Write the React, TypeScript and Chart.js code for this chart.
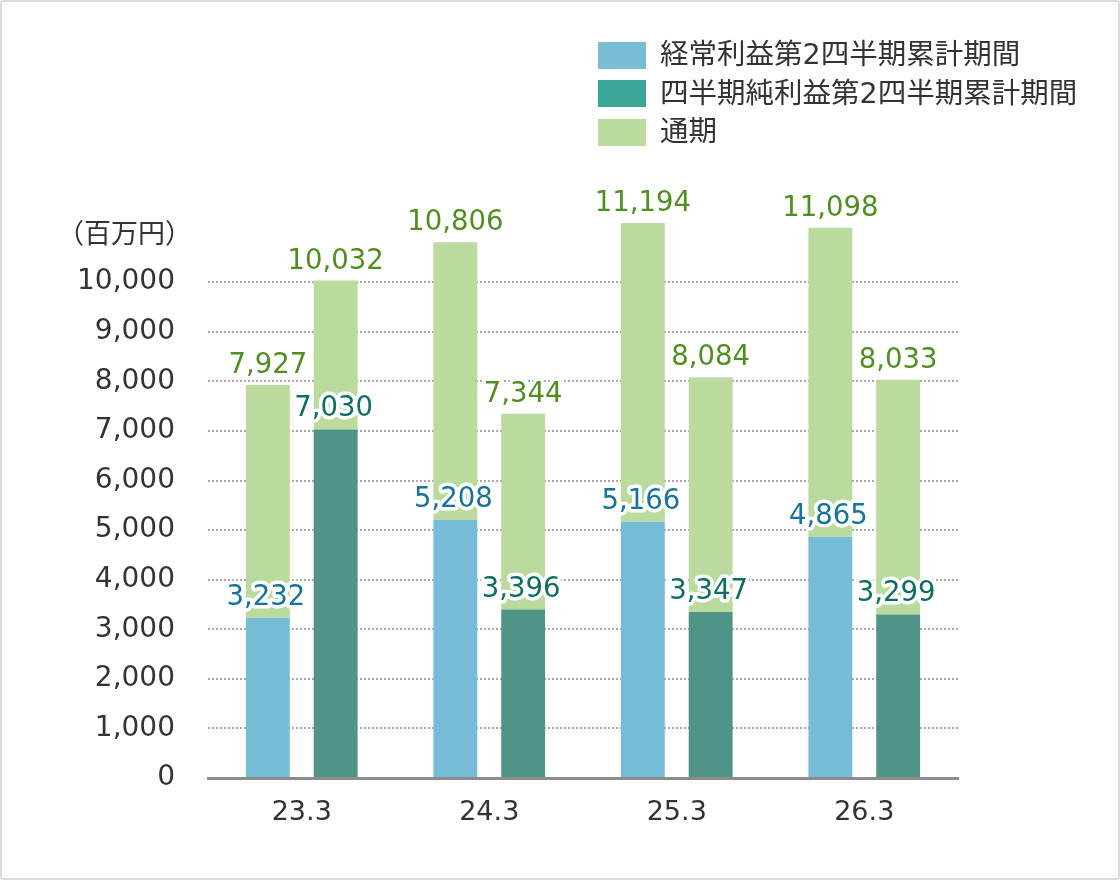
import { useEffect, useRef } from 'react';
import { Chart, registerables } from 'chart.js';

Chart.register(...registerables);

const categories = ['23.3', '24.3', '25.3', '26.3'];
const ordinaryHalf = [3232, 5208, 5166, 4865];
const ordinaryFull = [7927, 10806, 11194, 11098];
const netHalf = [7030, 3396, 3347, 3299];
const netFull = [10032, 7344, 8084, 8033];

const FONT = '"DejaVu Sans", "Noto Sans CJK JP", sans-serif';
const fmt = (v: number) => v.toLocaleString('en-US');

const legendItems = [
  { label: '経常利益第2四半期累計期間', color: '#78bcd6' },
  { label: '四半期純利益第2四半期累計期間', color: '#3ba597' },
  { label: '通期', color: '#bbda9e' },
];

const valueLabels = {
  id: 'valueLabels',
  afterDatasetsDraw(chart: Chart) {
    const { ctx } = chart;
    ctx.save();
    ctx.font = `27.5px ${FONT}`;
    ctx.textAlign = 'center';
    ctx.textBaseline = 'alphabetic';
    ctx.lineJoin = 'round';
    ctx.lineWidth = 7;
    ctx.strokeStyle = '#ffffff';
    const groups = [
      { half: 0, full: 1, halfVals: ordinaryHalf, fullVals: ordinaryFull, color: '#16739a' },
      { half: 2, full: 3, halfVals: netHalf, fullVals: netFull, color: '#0e6e60' },
    ];
    groups.forEach(g => {
      const halfMeta = chart.getDatasetMeta(g.half);
      const fullMeta = chart.getDatasetMeta(g.full);
      categories.forEach((_, i) => {
        const h: any = halfMeta.data[i];
        const f: any = fullMeta.data[i];
        const hText = fmt(g.halfVals[i]);
        ctx.strokeText(hText, h.x - 2, h.y - 13);
        ctx.fillStyle = g.color;
        ctx.fillText(hText, h.x - 2, h.y - 13);
        const fText = fmt(g.fullVals[i]);
        ctx.strokeText(fText, f.x, f.y - 12);
        ctx.fillStyle = '#4f8f20';
        ctx.fillText(fText, f.x, f.y - 12);
      });
    });
    ctx.restore();
  },
};

function ProfitChart() {
  const canvasRef = useRef<HTMLCanvasElement>(null);
  const chartRef = useRef<Chart | null>(null);

  useEffect(() => {
    if (!canvasRef.current) return;
    chartRef.current?.destroy();
    chartRef.current = new Chart(canvasRef.current, {
      type: 'bar',
      data: {
        labels: categories,
        datasets: [
          { label: '経常利益第2四半期累計期間', data: ordinaryHalf, backgroundColor: '#76bcd6', stack: 'a' },
          { label: '通期', data: ordinaryFull.map((v, i) => v - ordinaryHalf[i]), backgroundColor: '#bbda9e', stack: 'a' },
          { label: '四半期純利益第2四半期累計期間', data: netHalf, backgroundColor: '#509488', stack: 'b' },
          { label: '通期', data: netFull.map((v, i) => v - netHalf[i]), backgroundColor: '#bbda9e', stack: 'b' },
        ],
      },
      options: {
        animation: false,
        responsive: true,
        maintainAspectRatio: false,
        categoryPercentage: 0.7234,
        barPercentage: 0.647,
        layout: { padding: { top: 183, right: 162, bottom: 0, left: 0 } },
        plugins: {
          legend: { display: false },
          tooltip: { enabled: false },
        },
        scales: {
          x: {
            stacked: true,
            z: 1,
            grid: { display: false, drawTicks: false },
            border: { display: true, color: '#8c8c8c', width: 3 },
            ticks: { color: '#333', font: { family: FONT, size: 27 }, padding: 19 },
            afterFit: (s: any) => { s.height = 102; },
          },
          y: {
            stacked: true,
            min: 0,
            max: 12000,
            afterBuildTicks: (axis: any) => {
              axis.ticks = axis.ticks.filter((t: any) => t.value <= 10000);
            },
            ticks: {
              stepSize: 1000,
              color: '#333',
              font: { family: FONT, size: 28 },
              padding: 33,
              callback: (v: any) => fmt(Number(v)),
            },
            grid: { color: '#aaaaaa', lineWidth: 2, drawTicks: false },
            border: { display: false, dash: [2, 2] },
            afterFit: (s: any) => { s.width = 208; },
          },
        },
      },
      plugins: [valueLabels],
    });
    return () => chartRef.current?.destroy();
  }, []);

  return (
    <div style={{ position: 'absolute', left: 0, top: 0, width: 1120, height: 880 }}>
      <canvas
        ref={canvasRef}
        role="img"
        aria-label="経常利益・四半期純利益 第2四半期累計期間と通期（百万円）"
      />
    </div>
  );
}

export default function App() {
  return (
    <div
      style={{
        position: 'absolute',
        left: 0,
        top: 0,
        width: 1120,
        height: 880,
        background: '#fff',
        fontFamily: FONT,
        color: '#333',
      }}
    >
      <ProfitChart />
      <div
        style={{
          position: 'absolute',
          left: 57,
          top: 213,
          fontSize: 27,
          lineHeight: '38px',
          fontFamily: '"Noto Sans CJK JP", sans-serif',
          color: '#333',
        }}
      >
        （百万円）
      </div>
      <div style={{ position: 'absolute', left: 598, top: 36 }}>
        {legendItems.map(item => (
          <div key={item.label} style={{ display: 'flex', alignItems: 'center', height: 38.5 }}>
            <span style={{ width: 48, height: 27, background: item.color, marginRight: 14, flex: 'none' }} />
            <span style={{ fontSize: 28.5, lineHeight: '38px', whiteSpace: 'nowrap' }}>{item.label}</span>
          </div>
        ))}
      </div>
      <div
        style={{
          position: 'absolute',
          inset: 0,
          border: '2px solid #dcdcdc',
          borderRadius: 4,
          pointerEvents: 'none',
        }}
      />
    </div>
  );
}
